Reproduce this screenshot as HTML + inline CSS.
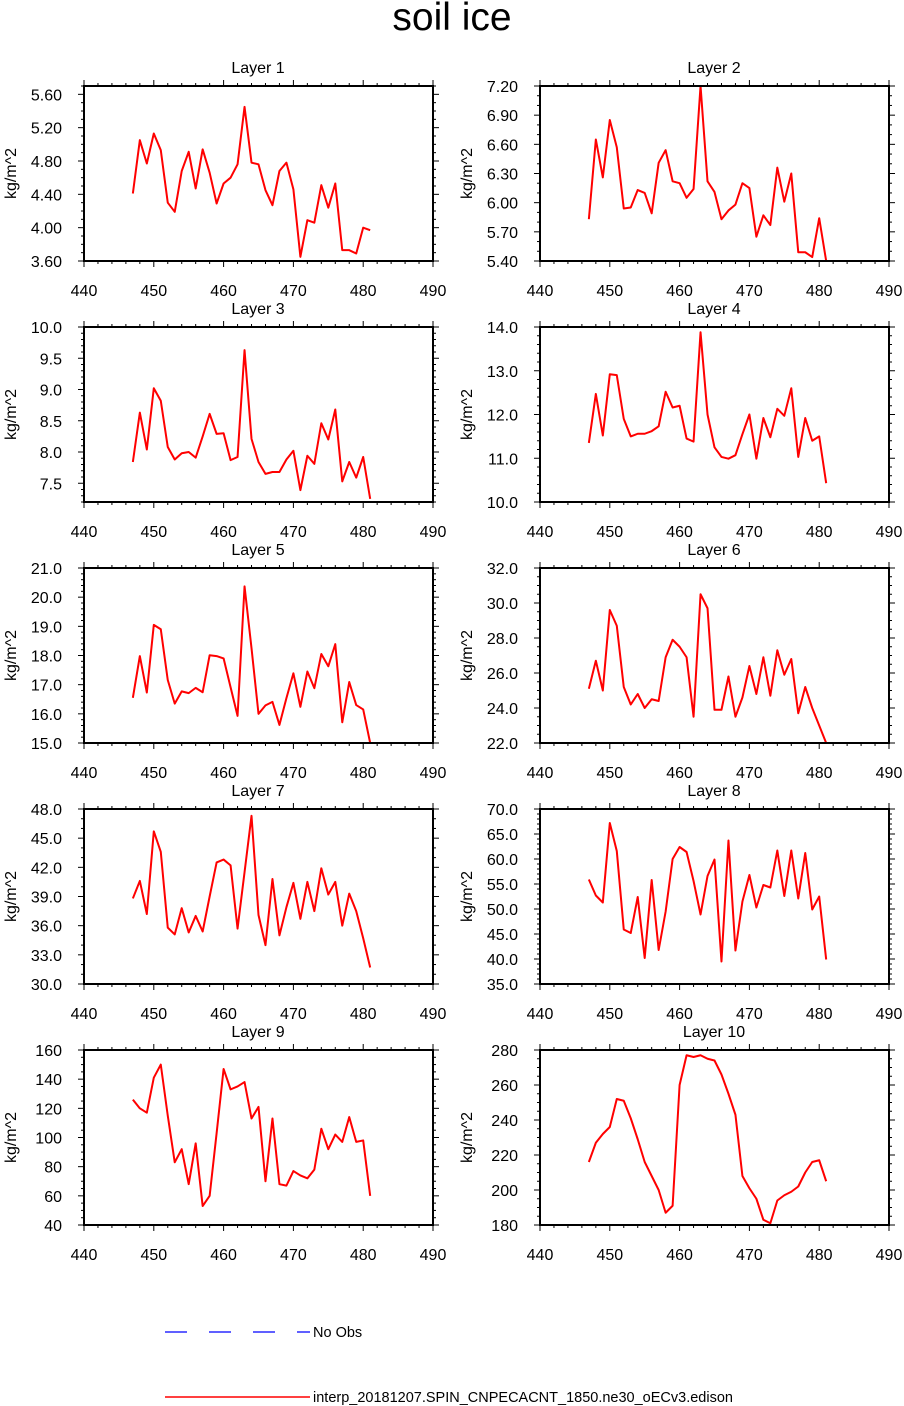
<!DOCTYPE html>
<html><head><meta charset="utf-8"><style>
html,body{margin:0;padding:0;background:#fff;}
svg{display:block;font-family:"Liberation Sans",sans-serif;}
</style></head><body>
<svg id="chart" width="904" height="1406" viewBox="0 0 904 1406" xmlns="http://www.w3.org/2000/svg">
<text x="452" y="30" text-anchor="middle" font-size="39">soil ice</text>
<g>
<line x1="165" y1="1332" x2="310" y2="1332" stroke="#0000ff" stroke-width="1.2" stroke-dasharray="22,22"/>
<text x="313" y="1337" font-size="14.5">No Obs</text>
<line x1="165" y1="1397" x2="310" y2="1397" stroke="#ff0000" stroke-width="1.5"/>
<text x="313" y="1402" font-size="14.5">interp_20181207.SPIN_CNPECACNT_1850.ne30_oECv3.edison</text>
</g>
</svg>
<script>
const years = [447,448,449,450,451,452,453,454,455,456,457,458,459,460,461,462,463,464,465,466,467,468,469,470,471,472,473,474,475,476,477,478,479,480,481];
const layer1 = [4.41,5.05,4.77,5.13,4.93,4.30,4.19,4.68,4.91,4.47,4.94,4.66,4.29,4.53,4.60,4.76,5.45,4.78,4.76,4.45,4.27,4.68,4.78,4.46,3.65,4.09,4.06,4.51,4.24,4.53,3.73,3.73,3.69,4.00,3.97];
const layer2 = [5.83,6.65,6.26,6.85,6.57,5.94,5.95,6.13,6.10,5.89,6.41,6.54,6.22,6.20,6.05,6.14,7.20,6.22,6.11,5.83,5.92,5.98,6.20,6.15,5.65,5.87,5.77,6.36,6.01,6.30,5.49,5.49,5.44,5.84,5.40];
const layer3 = [7.84,8.63,8.04,9.02,8.82,8.08,7.88,7.98,8.00,7.91,8.25,8.61,8.29,8.30,7.87,7.92,9.63,8.21,7.84,7.65,7.68,7.68,7.88,8.02,7.39,7.94,7.81,8.46,8.20,8.68,7.53,7.84,7.59,7.92,7.25];
const layer4 = [11.35,12.47,11.52,12.92,12.90,11.90,11.50,11.56,11.56,11.62,11.73,12.52,12.16,12.20,11.45,11.38,13.88,12.00,11.25,11.03,10.99,11.07,11.55,12.00,10.99,11.92,11.48,12.13,11.97,12.60,11.03,11.92,11.40,11.50,10.43];
const layer5 = [16.55,17.98,16.73,19.05,18.90,17.16,16.35,16.77,16.71,16.89,16.74,18.01,17.98,17.90,16.91,15.93,20.37,18.25,16.00,16.29,16.41,15.62,16.54,17.39,16.24,17.45,16.88,18.05,17.63,18.39,15.71,17.09,16.30,16.15,15.00];
const layer6 = [25.1,26.7,25.0,29.6,28.7,25.2,24.2,24.8,24.0,24.5,24.4,26.9,27.9,27.5,26.9,23.5,30.5,29.7,23.9,23.9,25.8,23.5,24.6,26.4,24.8,26.9,24.7,27.3,25.9,26.8,23.7,25.2,24.0,23.0,22.0];
const layer7 = [38.8,40.6,37.2,45.7,43.6,35.8,35.1,37.8,35.3,37.0,35.4,39.0,42.5,42.8,42.2,35.7,41.5,47.3,37.1,34.0,40.8,35.0,37.9,40.4,36.7,40.5,37.5,41.9,39.2,40.5,36.0,39.3,37.5,34.7,31.7];
const layer8 = [55.9,52.7,51.3,67.2,61.6,45.9,45.2,52.4,40.2,55.8,41.8,49.5,60.0,62.4,61.4,55.6,48.9,56.6,59.9,39.5,63.7,41.7,51.5,56.8,50.3,54.8,54.3,61.7,52.6,61.7,52.1,61.2,49.9,52.5,39.9];
const layer9 = [126,120,117,141,150,115,83,92,68,96,53,60,103,147,133,135,138,113,121,70,113,68,67,77,74,72,78,106,92,102,97,114,97,98,60];
const layer10 = [216,227,232,236,252,251,241,229,216,208,200,187,191,260,277,276,277,275,274,266,255,243,208,201,195,183,181,194,197,199,202,210,216,217,205];
const seriesList = [layer1,layer2,layer3,layer4,layer5,layer6,layer7,layer8,layer9,layer10];
const yMins = [3.6,5.4,7.2,10,15,22,30,35,40,180];
const yMaxs = [5.7,7.2,10,14,21,32,48,70,160,280];
const yStepsMajor = [0.4,0.3,0.5,1,1,2,3,5,20,20];
const yMinorDiv = [4,3,5,5,5,4,3,5,4,4];
const yDecimals = [2,2,1,1,1,1,1,1,0,0];
const xTicks = [440,450,460,470,480,490];

const NS='http://www.w3.org/2000/svg';
const svg=document.getElementById('chart');
function mk(tag,attrs,parent){const e=document.createElementNS(NS,tag);for(const k in attrs)e.setAttribute(k,attrs[k]);(parent||svg).appendChild(e);return e;}
const W=349,H=175;
for(let i=0;i<10;i++){
  const col=i%2,row=Math.floor(i/2);
  const L=col?540:84, T=86+row*241;
  const g=mk('g',{});
  
  
  const x=v=>L+(v-440)/50*W;
  const y=v=>T+H-(v-yMins[i])/(yMaxs[i]-yMins[i])*H;
  const t=mk('text',{x:col?714:258,y:T-13,'text-anchor':'middle','font-size':16},g);
  t.textContent='Layer '+(i+1);
  
  
  for(let v=440;v<=490;v+=2){
    const major=(v%10===0), len=major?6:3;
    mk('line',{x1:x(v),x2:x(v),y1:T+H,y2:T+H+len,stroke:'#000','stroke-width':1},g);
    mk('line',{x1:x(v),x2:x(v),y1:T,y2:T-len,stroke:'#000','stroke-width':1},g);
  }
  xTicks.forEach(v=>{
    const tl=mk('text',{x:x(v),y:T+H+35,'text-anchor':'middle','font-size':16},g);
    tl.textContent=v;
    
    
  });
  const step=yStepsMajor[i], ms=step/yMinorDiv[i];
  const start=Math.ceil((yMins[i]-1e-9)/ms)*ms;
  for(let v=start;v<=yMaxs[i]+1e-9;v+=ms){
    const major=Math.abs(v/step-Math.round(v/step))<1e-6;
    const len=major?6:3;
    mk('line',{x1:L,x2:L-len,y1:y(v),y2:y(v),stroke:'#000','stroke-width':1},g);
    mk('line',{x1:L+W,x2:L+W+len,y1:y(v),y2:y(v),stroke:'#000','stroke-width':1},g);
    if(major){
      const yl=mk('text',{x:L-22,y:y(v)+6,'text-anchor':'end','font-size':16},g);
      yl.textContent=v.toFixed(yDecimals[i]);
      
      
    }
  }
  const yt=mk('text',{x:0,y:0,'text-anchor':'middle','font-size':16,transform:`translate(${L-68},${T+H/2}) rotate(-90)`},g);
  yt.textContent='kg/m^2';
  
  
  const clipId='clip'+i;
  const cp=mk('clipPath',{id:clipId},g);
  mk('rect',{x:L,y:T-1,width:W,height:H+2},cp);
  const d=years.map((yr,j)=>(j?'L':'M')+x(yr).toFixed(2)+','+y(seriesList[i][j]).toFixed(2)).join(' ');
  const p=mk('path',{d:d,fill:'none',stroke:'#ff0000','stroke-width':2,'stroke-linejoin':'round','clip-path':`url(#${clipId})`},g);
  
  
  const fr=mk('rect',{x:L,y:T,width:W,height:H,fill:'none',stroke:'#000','stroke-width':2},g);
  
  
}
</script>
</body></html>
